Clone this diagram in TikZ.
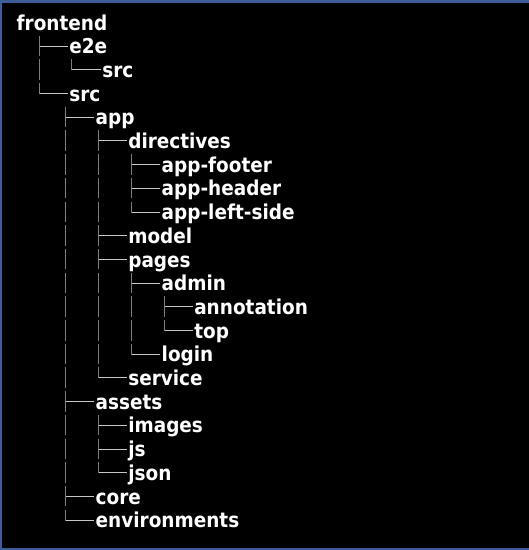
\documentclass[tikz,border=0pt]{standalone}
\usepackage{fontspec}
\setmainfont{DejaVu Sans Condensed}
\begin{document}
\begin{tikzpicture}[x=1pt,y=-1pt,
  item/.style={anchor=base west,inner sep=0pt,outer sep=0pt,text=white,
    font=\fontsize{20.5}{24}\selectfont\bfseries},
  hline/.style={draw={rgb,255:red,200;green,200;blue,200},line width=1pt},
  vline/.style={draw={rgb,255:red,125;green,125;blue,125},line width=1pt}]
\definecolor{frame}{RGB}{62,92,150}
\useasboundingbox (0,0) rectangle (529,550);
\fill[frame] (0,0) rectangle (529,550);
\fill[black] (2,3) rectangle (529,548);
% nodes: row / x / text / name ; baseline = 30 + 23.7*row
\foreach \r/\x/\t/\n in {
 0/16.7/frontend/n0, 1/69.3/e2e/n1, 2/102.3/src/n2, 3/69.3/src/n3,
 4/95.7/app/n4, 5/128.3/directives/n5, 6/161.7/app-footer/n6,
 7/161.7/app-header/n7, 8/161.7/app-left-side/n8, 9/128.3/model/n9,
 10/128.3/pages/n10, 11/161.7/admin/n11, 12/194.3/annotation/n12,
 13/194.3/top/n13, 14/161.7/login/n14, 15/128.3/service/n15,
 16/95.7/assets/n16, 17/128.3/images/n17, 18/128.3/js/n18,
 19/128.3/json/n19, 20/95.7/core/n20, 21/95.7/environments/n21}
 {\node[item] (\n) at (\x,{30+23.7*\r}) {\t};}
% branch connectors: row / vertical x / last(1) or not(0)
\foreach \r/\v/\l in {1/39/0, 2/71.7/1, 3/39/1, 4/65/0, 5/98.3/0, 6/131.7/0,
 7/131.7/0, 8/131.7/1, 9/98.3/0, 10/98.3/0, 11/131.7/0, 12/164.3/0,
 13/164.3/1, 14/131.7/1, 15/98.3/1, 16/65/0, 17/98.3/0, 18/98.3/0,
 19/98.3/1, 20/65/0, 21/65/1}
 {\coordinate (c\r) at (\v,{30+23.7*\r-7.6});
  \draw[hline] (c\r) -- ([xshift=-1.5pt,yshift=7.6pt]n\r.base west);
  \ifnum\l=1
    \draw[vline] ([yshift=10.5pt]c\r) -- ([yshift=-0.5pt]c\r);
  \else
    \draw[vline] ([yshift=10.5pt]c\r) -- ([yshift=-10pt]c\r);
  \fi}
% pass-through verticals: row / x
\foreach \r/\v in {2/39,
 5/65, 6/65, 7/65, 8/65, 9/65, 10/65, 11/65, 12/65, 13/65, 14/65, 15/65,
 17/65, 18/65, 19/65,
 6/98.3, 7/98.3, 8/98.3, 11/98.3, 12/98.3, 13/98.3, 14/98.3,
 12/131.7, 13/131.7}
 {\draw[vline] (\v,{30+23.7*\r-7.6-10.5}) -- (\v,{30+23.7*\r-7.6+10});}
\end{tikzpicture}
\end{document}
